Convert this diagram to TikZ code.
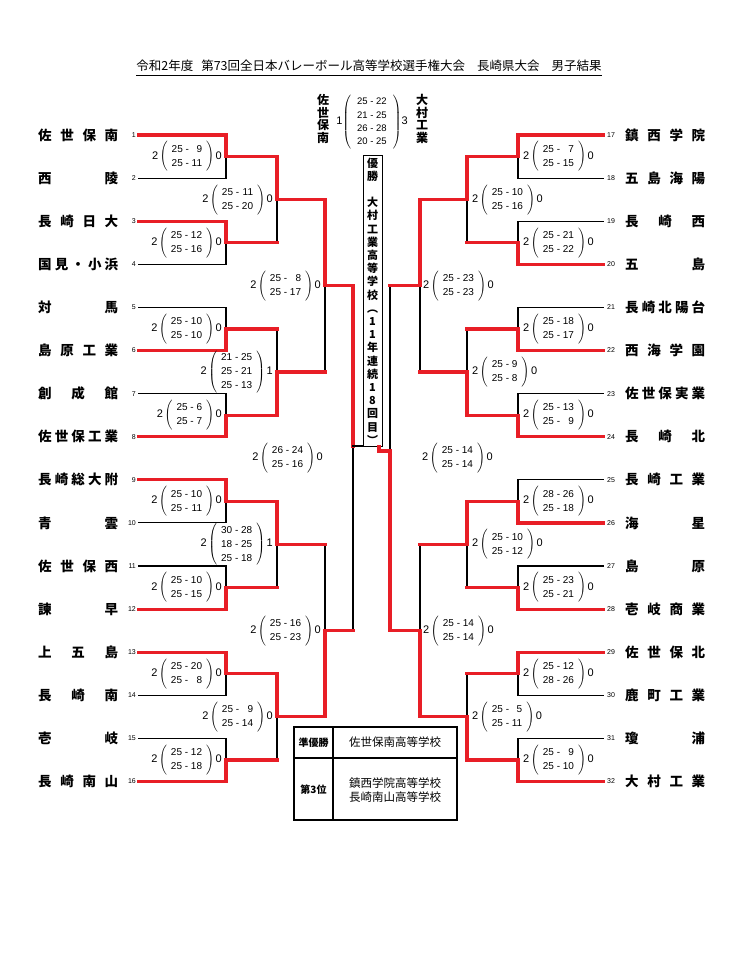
\documentclass[tikz,border=0pt]{standalone}
\usepackage{fontspec}
\setmainfont{Noto Sans CJK JP}
\newfontfamily\numfont{Liberation Sans}
\usetikzlibrary{positioning}
\definecolor{winred}{RGB}{232,30,38}

\newcommand{\sets}[3]{{\fontsize{11}{11}\selectfont #1}\,$\left(\hspace{4pt}\begin{tabular}{@{}r@{ - }r@{}}#2\end{tabular}\hspace{4pt}\right)$\,{\fontsize{11}{11}\selectfont #3}}
\newcommand{\jname}[1]{\makebox[80pt][s]{#1}}

\begin{document}
\begin{tikzpicture}[x=1pt, y=-1pt,
    bline/.style={line width=1.1pt, line cap=rect},
    rline/.style={winred, line width=3.2pt, line cap=rect, line join=miter},
    teamname/.style={font=\bfseries\fontsize{13.5}{13.5}\selectfont, inner sep=0pt},
    teamno/.style={font=\numfont\fontsize{7}{7}\selectfont, inner sep=0pt},
    score/.style={font=\numfont\fontsize{10}{14}\selectfont, inner sep=0pt}]
  \fill[white] (0,0) rectangle (742,960);
  \useasboundingbox (0,0) rectangle (742,960);

  \node[font=\fontsize{12.5}{12.5}\selectfont, inner sep=0pt] (title) at (369,66) {令和2年度\hspace{8pt}第73回全日本バレーボール高等学校選手権大会\hspace{12pt}長崎県大会\hspace{12pt}男子結果};
  \draw[line width=0.8pt] ([yshift=-3pt]title.south west) -- ([yshift=-3pt]title.south east);

  % bracket points
  \foreach \r/\xa/\xb in {0/139/226, 1/226/277, 2/277/325, 3/325/353} {
    \pgfmathtruncatemacro\n{16/2^\r}
    \foreach \k in {1,...,\n} {
      \pgfmathsetmacro\yy{135+43.1*((\k-1)*2^\r+(2^\r-1)/2)}
      \coordinate (La\r-\k) at (\xa,\yy);
      \coordinate (Lb\r-\k) at (\xb,\yy);
    }
  }
  \foreach \r/\xa/\xb in {0/603/518, 1/518/467, 2/467/420, 3/420/390} {
    \pgfmathtruncatemacro\n{16/2^\r}
    \foreach \k in {1,...,\n} {
      \pgfmathsetmacro\yy{135+43.1*((\k-1)*2^\r+(2^\r-1)/2)}
      \coordinate (Ra\r-\k) at (\xa,\yy);
      \coordinate (Rb\r-\k) at (\xb,\yy);
    }
  }
  \coordinate (La4-1) at (353,446);
  \coordinate (Lb4-1) at (363,446);
  \coordinate (Ra4-1) at (390,451);
  \coordinate (Rb4-1) at (379,451);

  % black lines
  \foreach \sd in {L,R} {
    \foreach \r in {0,...,3} {
      \pgfmathtruncatemacro\n{16/2^\r}
      \foreach \k in {1,...,\n} { \draw[bline] (\sd a\r-\k) -- (\sd b\r-\k); }
      \pgfmathtruncatemacro\m{8/2^\r}
      \foreach \k in {1,...,\m} {
        \pgfmathtruncatemacro\u{2*\k-1}
        \pgfmathtruncatemacro\v{2*\k}
        \draw[bline] (\sd b\r-\u) -- (\sd b\r-\v);
      }
    }
  }

  % winners in red
  \foreach \r/\k/\w in {0/1/1, 0/2/3, 0/3/6, 0/4/8, 0/5/9, 0/6/12, 0/7/13, 0/8/16,
      1/1/1, 1/2/4, 1/3/5, 1/4/7, 2/1/1, 2/2/4} {
    \pgfmathtruncatemacro\q{\r+1}
    \draw[rline] (La\r-\w) -- (Lb\r-\w) -- (La\q-\k) -- (Lb\q-\k);
  }
  \foreach \r/\k/\w in {0/1/1, 0/2/4, 0/3/6, 0/4/8, 0/5/10, 0/6/12, 0/7/13, 0/8/16,
      1/1/1, 1/2/4, 1/3/5, 1/4/8, 2/1/1, 2/2/4} {
    \pgfmathtruncatemacro\q{\r+1}
    \draw[rline] (Ra\r-\w) -- (Rb\r-\w) -- (Ra\q-\k) -- (Rb\q-\k);
  }

  % teams
  \foreach \i/\nm in {1/佐 世 保 南, 2/西 陵, 3/長 崎 日 大, 4/国 見 ・ 小 浜, 5/対 馬, 6/島 原 工 業, 7/創 成 館, 8/佐 世 保 工 業,
      9/長 崎 総 大 附, 10/青 雲, 11/佐 世 保 西, 12/諫 早, 13/上 五 島, 14/長 崎 南, 15/壱 岐, 16/長 崎 南 山} {
    \node[teamname, anchor=west] (nm\i) at (38,{135+(\i-1)*43.1}) {\jname{\nm}};
    \node[teamno, anchor=east] (no\i) at (136,{135+(\i-1)*43.1}) {\i};
  }
  \foreach \i/\nm in {17/鎮 西 学 院, 18/五 島 海 陽, 19/長 崎 西, 20/五 島, 21/長 崎 北 陽 台, 22/西 海 学 園, 23/佐 世 保 実 業, 24/長 崎 北,
      25/長 崎 工 業, 26/海 星, 27/島 原, 28/壱 岐 商 業, 29/佐 世 保 北, 30/鹿 町 工 業, 31/瓊 浦, 32/大 村 工 業} {
    \node[teamname, anchor=west] (nm\i) at (625,{135+(\i-17)*43.1}) {\jname{\nm}};
    \node[teamno, anchor=west] (no\i) at (607,{135+(\i-17)*43.1}) {\i};
  }

  % scores, left
  \node[score, left=4pt of La1-1] (sL1-1) {\sets{2}{25&9\\25&11}{0}};
  \node[score, left=4pt of La1-2] (sL1-2) {\sets{2}{25&12\\25&16}{0}};
  \node[score, left=4pt of La1-3] (sL1-3) {\sets{2}{25&10\\25&10}{0}};
  \node[score, left=4pt of La1-4] (sL1-4) {\sets{2}{25&6\\25&7}{0}};
  \node[score, left=4pt of La1-5] (sL1-5) {\sets{2}{25&10\\25&11}{0}};
  \node[score, left=4pt of La1-6] (sL1-6) {\sets{2}{25&10\\25&15}{0}};
  \node[score, left=4pt of La1-7] (sL1-7) {\sets{2}{25&20\\25&8}{0}};
  \node[score, left=4pt of La1-8] (sL1-8) {\sets{2}{25&12\\25&18}{0}};
  \node[score, left=4pt of La2-1] (sL2-1) {\sets{2}{25&11\\25&20}{0}};
  \node[score, left=4pt of La2-2] (sL2-2) {\sets{2}{21&25\\25&21\\25&13}{1}};
  \node[score, left=4pt of La2-3] (sL2-3) {\sets{2}{30&28\\18&25\\25&18}{1}};
  \node[score, left=4pt of La2-4] (sL2-4) {\sets{2}{25&9\\25&14}{0}};
  \node[score, left=4pt of La3-1] (sL3-1) {\sets{2}{25&8\\25&17}{0}};
  \node[score, left=4pt of La3-2] (sL3-2) {\sets{2}{25&16\\25&23}{0}};
  \node[score, anchor=east] (sL4-1) at (323,458) {\sets{2}{26&24\\25&16}{0}};

  % scores, right
  \node[score, right=5pt of Ra1-1] (sR1-1) {\sets{2}{25&7\\25&15}{0}};
  \node[score, right=5pt of Ra1-2] (sR1-2) {\sets{2}{25&21\\25&22}{0}};
  \node[score, right=5pt of Ra1-3] (sR1-3) {\sets{2}{25&18\\25&17}{0}};
  \node[score, right=5pt of Ra1-4] (sR1-4) {\sets{2}{25&13\\25&9}{0}};
  \node[score, right=5pt of Ra1-5] (sR1-5) {\sets{2}{28&26\\25&18}{0}};
  \node[score, right=5pt of Ra1-6] (sR1-6) {\sets{2}{25&23\\25&21}{0}};
  \node[score, right=5pt of Ra1-7] (sR1-7) {\sets{2}{25&12\\28&26}{0}};
  \node[score, right=5pt of Ra1-8] (sR1-8) {\sets{2}{25&9\\25&10}{0}};
  \node[score, right=5pt of Ra2-1] (sR2-1) {\sets{2}{25&10\\25&16}{0}};
  \node[score, right=5pt of Ra2-2] (sR2-2) {\sets{2}{25&9\\25&8}{0}};
  \node[score, right=5pt of Ra2-3] (sR2-3) {\sets{2}{25&10\\25&12}{0}};
  \node[score, right=5pt of Ra2-4] (sR2-4) {\sets{2}{25&5\\25&11}{0}};
  \node[score, right=3pt of Ra3-1] (sR3-1) {\sets{2}{25&23\\25&23}{0}};
  \node[score, right=3pt of Ra3-2] (sR3-2) {\sets{2}{25&14\\25&14}{0}};
  \node[score, anchor=west] (sR4-1) at (422,458) {\sets{2}{25&14\\25&14}{0}};

  % final
  \node[font=\bfseries\fontsize{12}{12.5}\selectfont, align=center, inner sep=0pt] (finL) at (323,119) {佐\\世\\保\\南};
  \node[font=\bfseries\fontsize{12}{12.5}\selectfont, align=center, inner sep=0pt] (finR) at (422,119) {大\\村\\工\\業};
  \node[score, font=\numfont\fontsize{9.5}{13.3}\selectfont] (finS) at (372,122)
    {{\fontsize{11}{11}\selectfont 1}$\left(\hspace{6pt}\begin{tabular}{@{}r@{ - }r@{}}25&22\\21&25\\26&28\\20&25\end{tabular}\hspace{6pt}\right)${\fontsize{11}{11}\selectfont 3}};
  \node[draw, line width=1pt, font=\bfseries\fontsize{11}{13.2}\selectfont, align=center, inner xsep=3pt, inner ysep=2pt,
    minimum width=19pt, minimum height=288pt] (champ) at (372.5,301)
    {優\\勝\\[13.2pt]大\\村\\工\\業\\高\\等\\学\\校\\︵\\1\\1\\年\\連\\続\\1\\8\\回\\目\\︶};
  \draw[rline] (La3-1) -- (Lb3-1) -- (La4-1);
  \draw[bline] (La4-1) -- (Lb4-1);
  \draw[rline] (Ra3-2) -- (Rb3-2) -- (Ra4-1) -- (Rb4-1) -- (Rb4-1 |- champ.south);

  % places
  \draw[line width=1.3pt] (294,727) rectangle (457,820);
  \draw[line width=1.3pt] (333,727) -- (333,820);
  \draw[line width=1.3pt] (294,758) -- (457,758);
  \node[font=\bfseries\fontsize{10}{10}\selectfont] (p2) at (313.5,742.5) {準優勝};
  \node[font=\fontsize{11.5}{14}\selectfont] (p2s) at (395,742.5) {佐世保南高等学校};
  \node[font=\bfseries\fontsize{10}{10}\selectfont] (p3) at (313.5,790) {第3位};
  \node[font=\fontsize{11.5}{14}\selectfont, align=center] (p3s) at (395,790) {鎮西学院高等学校\\長崎南山高等学校};
\end{tikzpicture}
\end{document}
